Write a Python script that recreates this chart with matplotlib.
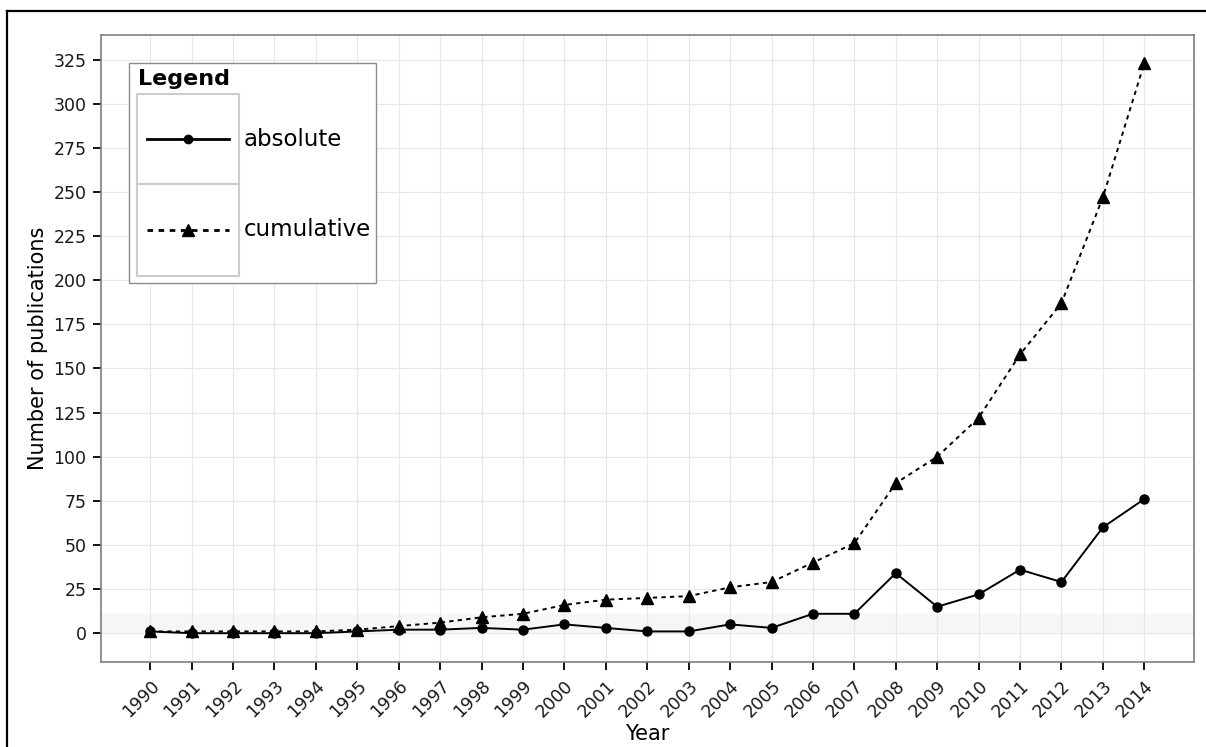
import matplotlib
matplotlib.use("Agg")
import matplotlib.pyplot as plt
from matplotlib.lines import Line2D
from matplotlib.patches import Rectangle

# -----------------------------
# Data
# -----------------------------

years = list(range(1990, 2015))

absolute = [1, 0, 0, 0, 0, 1, 2, 2, 3, 2, 5, 3, 1, 1, 5, 3,
            11, 11, 34, 15, 22, 36, 29, 60, 76]

cumulative = [1, 1, 1, 1, 1, 2, 4, 6, 9, 11, 16, 19, 20, 21, 26, 29,
              40, 51, 85, 100, 122, 158, 187, 247, 323]

y_ticks = list(range(0, 326, 25))

series_labels = ["absolute", "cumulative"]

W, H = 1206, 747


def px(x, y):
    # pixel (from top-left) -> figure fraction
    return x / W, 1 - y / H


fig = plt.figure(figsize=(W / 100, H / 100), dpi=100)

x0, y1 = px(100.5, 34.7)
x1, y0 = px(1194, 661.7)
ax = fig.add_axes([x0, y0, x1 - x0, y1 - y0])

ax.axhspan(0, 11, color="#f6f6f6", zorder=0, lw=0)

ax.plot(years, absolute, color="black", lw=1.4, marker="o",
        markersize=6.5, zorder=3)
ax.plot(years, cumulative, color="black", lw=1.4, linestyle=(0, (2.2, 2.2)),
        marker="^", markersize=8, zorder=3)

ax.set_xlim(1988.8, 2015.2)
ax.set_ylim(-16.15, 339.15)

ax.set_xticks(years)
ax.set_xticklabels([str(y) for y in years], rotation=45, ha="right",
                   va="top", rotation_mode="anchor", fontsize=12.5)
ax.set_yticks(y_ticks)
ax.set_yticklabels([str(v) for v in y_ticks], fontsize=12.5)

ax.tick_params(axis="both", length=6, width=1.3, color="black",
               labelcolor="#1a1a1a")
ax.tick_params(axis="y", pad=4)
ax.tick_params(axis="x", pad=5)

ax.grid(True, color="#e8e8e8", lw=0.9, zorder=0)
ax.set_axisbelow(True)

for s in ax.spines.values():
    s.set_color("#7f7f7f")
    s.set_linewidth(1.2)

ax.set_xlabel("Year", fontsize=15, labelpad=2)
ax.set_ylabel("Number of publications", fontsize=15, labelpad=4)

# -----------------------------
# Legend (ggplot style, drawn by hand)
# -----------------------------

lx, ly = px(129.3, 283)
rx, ry = px(376, 63.3)
fig.patches.append(Rectangle((lx, ly), rx - lx, ry - ly,
                             transform=fig.transFigure, facecolor="white",
                             edgecolor="#8c8c8c", lw=1.0, zorder=5))

tx, ty = px(138, 79)
fig.text(tx, ty, "Legend", fontsize=16, fontweight="bold",
         ha="left", va="center", zorder=6)

key_rows = [(94.3, 184.3), (184.3, 275.7)]
key_styles = [dict(linestyle="-", marker="o", markersize=6),
              dict(linestyle=(0, (2, 2)), marker="^", markersize=8)]

for (top, bot), style, label in zip(key_rows, key_styles, series_labels):
    bx, by = px(136.7, bot)
    ex, ey = px(239, top)
    fig.patches.append(Rectangle((bx, by), ex - bx, ey - by,
                                 transform=fig.transFigure, facecolor="white",
                                 edgecolor="#cccccc", lw=1.5, zorder=6))
    cy = (top + bot) / 2
    ax_l, ay = px(146.7, cy)
    ax_r, _ = px(229, cy)
    mx, _ = px(188.3, cy)
    fig.lines.append(Line2D([ax_l, ax_r], [ay, ay], transform=fig.transFigure,
                            color="black", lw=2.0,
                            linestyle=style["linestyle"], zorder=7))
    fig.lines.append(Line2D([mx], [ay], transform=fig.transFigure,
                            color="black", marker=style["marker"],
                            markersize=style["markersize"], lw=0, zorder=8))
    tlx, _ = px(243.3, cy)
    fig.text(tlx, ay, label, fontsize=16.5, ha="left", va="center", zorder=7)

# outer frame (only left and top edges visible in the crop)
fx, fy = px(7, 11)
fig.lines.append(Line2D([fx, fx], [0, fy], transform=fig.transFigure,
                        color="black", lw=1.6))
fig.lines.append(Line2D([fx, 1], [fy, fy], transform=fig.transFigure,
                        color="black", lw=1.6))

fig.savefig("out.png", dpi=100)
